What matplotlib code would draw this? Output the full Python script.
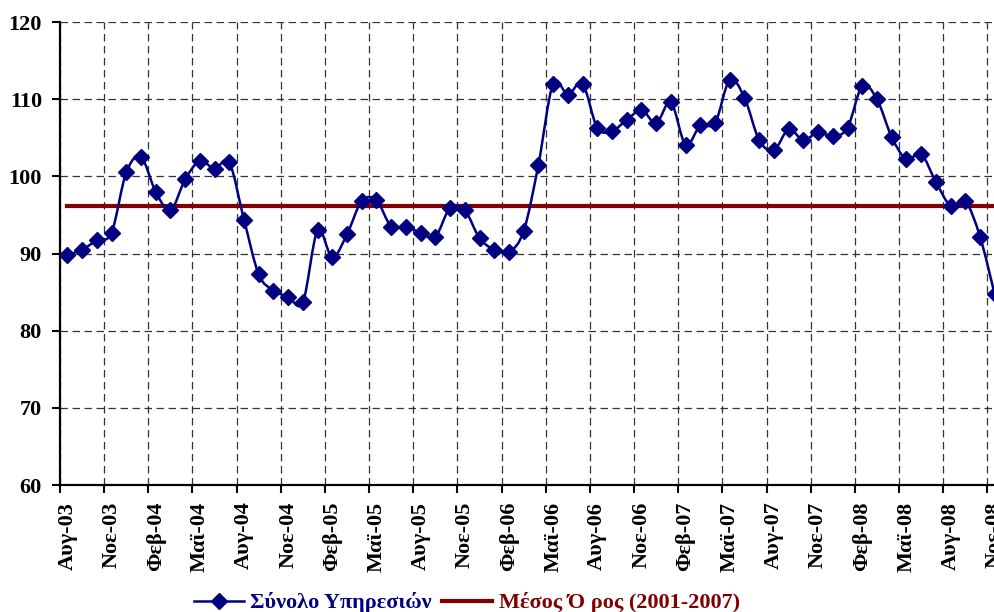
import matplotlib
matplotlib.use("Agg")
import matplotlib.pyplot as plt
from matplotlib.path import Path
from matplotlib.patches import PathPatch
from matplotlib.lines import Line2D
import numpy as np

# Monthly index, Aug-03 .. Nov-08
month_names = ["Ιαν", "Φεβ", "Μαρ", "Απρ", "Μαϊ", "Ιουν",
               "Ιουλ", "Αυγ", "Σεπ", "Οκτ", "Νοε", "Δεκ"]
start_year, start_month = 2003, 8

services_total = [
    89.8, 90.5, 91.7, 92.7, 100.5, 102.5, 98.0, 95.6, 99.6, 102.0,
    101.0, 101.8, 94.4, 87.3, 85.2, 84.4, 83.7, 93.0, 89.5, 92.5,
    96.8, 96.9, 93.5, 93.5, 92.7, 92.2, 95.9, 95.6, 92.0, 90.5,
    90.2, 92.9, 101.5, 112.0, 110.6, 112.0, 106.3, 105.9, 107.3, 108.6,
    106.9, 109.6, 104.1, 106.6, 106.9, 112.5, 110.2, 104.7, 103.4, 106.1,
    104.7, 105.7, 105.2, 106.3, 111.7, 110.0, 105.1, 102.2, 102.9, 99.3,
    96.2, 96.8, 92.2, 84.7,
]
mean_2001_2007 = 96.1

n = len(services_total)
labels = []
for i in range(n):
    m = (start_month - 1 + i) % 12
    y = start_year + (start_month - 1 + i) // 12
    labels.append(f"{month_names[m]}-{y % 100:02d}")

navy = "#000080"
maroon = "#800000"
font = "Liberation Serif"

fig = plt.figure(figsize=(9.95, 6.12), dpi=100)
ax = fig.add_axes([0.0603, 0.2075, 0.9397, 0.7565])

x = np.arange(n)
yv = np.array(services_total)

# smoothed line (Catmull-Rom through the data points, like Excel)
pts = np.column_stack([x, yv])
verts = [pts[0]]
codes = [Path.MOVETO]
for i in range(n - 1):
    p0 = pts[i - 1] if i > 0 else pts[i]
    p1, p2 = pts[i], pts[i + 1]
    p3 = pts[i + 2] if i + 2 < n else pts[i + 1]
    verts += [p1 + (p2 - p0) / 6, p2 - (p3 - p1) / 6, p2]
    codes += [Path.CURVE4] * 3
ax.add_patch(PathPatch(Path(verts, codes), facecolor="none", edgecolor=navy,
                       lw=1.8, zorder=3))
ax.plot(x, yv, ls="none", marker="D", ms=8, color=navy, zorder=4, clip_on=False)

ax.plot(x, [mean_2001_2007] * n, color=maroon, lw=3, zorder=2)

ax.set_xlim(-0.5, 63.02)
ax.set_ylim(60, 120)

ax.set_yticks(range(60, 121, 10))
ax.set_xticks(np.arange(-0.5, n, 3))
ax.set_xticklabels([])
ax.set_xticks(np.arange(0, n, 3), minor=True)
ax.set_xticklabels(labels[::3], minor=True, rotation=90, va="top")
ax.tick_params(axis="x", which="minor", length=0, pad=12)
ax.tick_params(axis="x", which="major", length=6, width=1.5, direction="out")
ax.tick_params(axis="y", length=6, width=1.5, direction="out", pad=7)
for t in ax.get_xticklabels(minor=True) + ax.get_yticklabels():
    t.set_fontfamily(font)
    t.set_fontweight("bold")
    t.set_fontsize(16)

ax.grid(True, which="major", color="#333333", ls=(0, (6, 3.6)), lw=0.9)
ax.set_axisbelow(True)
for s in ["top", "right"]:
    ax.spines[s].set_visible(False)
for s in ["left", "bottom"]:
    ax.spines[s].set_linewidth(1.6)
    ax.spines[s].set_zorder(5)

handles = [
    Line2D([], [], color=navy, lw=1.8, marker="D", ms=8),
    Line2D([], [], color=maroon, lw=3),
]
leg = fig.legend(handles, ["Σύνολο Υπηρεσιών", "Μέσος Ό ρος (2001-2007)"],
                 loc="lower center", bbox_to_anchor=(0.469, -0.035), ncol=2,
                 frameon=False, handlelength=2.25, columnspacing=0.45,
                 handletextpad=0.3,
                 prop={"family": font, "weight": "bold", "size": 16})
for txt, c in zip(leg.get_texts(), [navy, maroon]):
    txt.set_color(c)

fig.savefig("out.png", dpi=100)
